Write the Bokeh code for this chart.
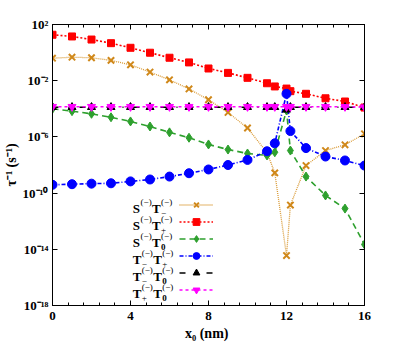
import numpy as np
from bokeh.plotting import figure
from bokeh.models import (FixedTicker, LinearAxis, LogAxis, Label, Legend, LegendItem, Range1d,
                          CustomJSTickFormatter)
from bokeh.embed import file_html
from bokeh.resources import INLINE

# ---------------- data ----------------
x0_nm = [0, 1, 2, 3, 4, 5, 6, 7, 8, 9, 10, 11, 11.4, 12, 12.2, 13, 14, 15, 16]

rate_S_Tminus = [4.0e-1, 4.7e-1, 4.3e-1, 2.8e-1, 1.35e-1, 4.1e-2, 1.15e-2, 2.6e-3, 4.4e-4,
                 5.5e-5, 4.3e-6, 7.8e-8, 2.75e-9, 3.6e-15, 1.4e-11, 9.1e-9, 1.07e-7, 2.75e-7, 1.66e-6]
rate_S_Tplus = [18.6, 14.1, 8.5, 4.7, 2.2, 0.98, 0.43, 0.20, 7.4e-2,
                3.6e-2, 1.6e-2, 6.6e-3, 3.9e-3, 2.75e-3, 1.8e-3, 1.17e-3, 5.6e-4, 3.3e-4, 1.23e-4]
rate_S_T0 = [1.0e-4, 6.8e-5, 4.4e-5, 2.5e-5, 1.26e-5, 5.5e-6, 2.1e-6, 8.7e-7, 2.9e-7,
             1.26e-7, 6.6e-8, 4.8e-8, 8.1e-8, 7.6e-5, 1.07e-7, 1.5e-9, 6.8e-11, 7.9e-12, 2.2e-14]
rate_Tminus_Tplus = [3.9e-10, 4.3e-10, 4.7e-10, 5.0e-10, 6.8e-10, 9.3e-10, 1.5e-9, 2.6e-9, 4.8e-9,
                     1.0e-8, 2.3e-8, 9.5e-8, 3.5e-7, 1.17e-3, 2.6e-6, 1.6e-7, 4.0e-8, 2.1e-8, 9.1e-9]
rate_Tminus_T0 = [1.3e-4, 1.3e-4, 1.3e-4, 1.3e-4, 1.3e-4, 1.3e-4, 1.3e-4, 1.3e-4, 1.3e-4,
                  1.3e-4, 1.3e-4, 1.3e-4, 1.3e-4, 8.5e-5, 1.3e-4, 1.3e-4, 1.3e-4, 1.3e-4, 1.3e-4]
rate_Tplus_T0 = [1.4e-4, 1.4e-4, 1.4e-4, 1.4e-4, 1.4e-4, 1.4e-4, 1.4e-4, 1.4e-4, 1.4e-4,
                 1.4e-4, 1.4e-4, 1.4e-4, 1.4e-4, 1.4e-4, 1.4e-4, 1.4e-4, 1.4e-4, 1.4e-4, 1.3e-4]

x_ticks = [0, 4, 8, 12, 16]
y_tick_exponents = [2, -2, -6, -10, -14, -18]

x_label = "x\u2080  (nm)"
y_label = "\u03c4\u207b\u00b9 (s\u207b\u00b9)"

# legend label parts: (first letter, its subscript, second letter, its subscript)
legend_parts = [("S", "", "T", "\u2212"),
                ("S", "", "T", "+"),
                ("S", "", "T", "0"),
                ("T", "\u2212", "T", "+"),
                ("T", "\u2212", "T", "0"),
                ("T", "+", "T", "0")]

FONT = "Liberation Serif"

p = figure(width=409, height=343, x_range=Range1d(0, 16), y_range=Range1d(1e-18, 1e2),
           y_axis_type="log", output_backend="svg", toolbar_location=None,
           min_border_left=52, min_border_right=45, min_border_top=24, min_border_bottom=38)
p.xgrid.visible = False
p.ygrid.visible = False
p.outline_line_color = "black"
p.background_fill_color = "white"
p.border_fill_color = "white"

minor_x = [float(v) for v in np.arange(0, 16.001, 0.8)]
y_tick_values = [10.0 ** e for e in y_tick_exponents]

def style_axis(ax, labels=True):
    ax.axis_line_color = "black"
    ax.major_tick_in = 5
    ax.major_tick_out = 0
    ax.minor_tick_in = 3
    ax.minor_tick_out = 0
    ax.major_tick_line_color = "black"
    ax.minor_tick_line_color = "black"
    if labels:
        ax.major_label_text_font = FONT
        ax.major_label_text_font_style = "bold"
        ax.major_label_text_color = "black"
        ax.axis_label_text_font = FONT
        ax.axis_label_text_font_style = "bold"
        ax.axis_label_text_color = "black"
    else:
        ax.major_label_text_font_size = "1px"
        ax.major_label_text_alpha = 0
        ax.major_label_standoff = 0

xa = p.xaxis[0]
xa.ticker = FixedTicker(ticks=x_ticks, minor_ticks=minor_x)
style_axis(xa)
xa.major_label_text_font_size = "13px"
xa.major_label_standoff = 6
xa.axis_label = x_label
xa.axis_label_text_font_size = "14px"
xa.axis_label_standoff = 3

ya = p.yaxis[0]
ya.ticker = FixedTicker(ticks=y_tick_values, minor_ticks=[])
style_axis(ya)
ya.major_label_text_font_size = "13px"
ya.major_label_standoff = 4
ya.formatter = CustomJSTickFormatter(code="""
const m = {"-": "\u207b", "0": "\u2070", "1": "\u00b9", "2": "\u00b2", "3": "\u00b3",
           "4": "\u2074", "5": "\u2075", "6": "\u2076", "7": "\u2077", "8": "\u2078", "9": "\u2079"};
const e = Math.round(Math.log10(tick));
return "10" + String(e).split("").map(c => m[c]).join("");
""")
ya.axis_label = y_label
ya.axis_label_text_font_size = "14px"
ya.axis_label_standoff = 1

top = LinearAxis(ticker=FixedTicker(ticks=x_ticks, minor_ticks=minor_x))
style_axis(top, labels=False)
p.add_layout(top, "above")
right = LogAxis(ticker=FixedTicker(ticks=y_tick_values, minor_ticks=[]))
style_axis(right, labels=False)
p.add_layout(right, "right")

series = [
    (rate_S_Tminus, "#d99a35", "#d0881a", "1 1", 1.3, "x", 9, 2.0),
    (rate_S_Tplus, "#ff0000", "#ff0000", "2 2", 1.6, "square", 7, 1.0),
    (rate_S_T0, "#2ea02e", "#2ea02e", "6 4", 1.6, "diamond", 9, 1.0),
    (rate_Tminus_Tplus, "#0000ff", "#0000ff", "4 2 1 2", 1.6, "circle", 9, 1.0),
    (rate_Tminus_T0, "#000000", "#000000", "6 10 1 10", 1.6, "triangle", 8, 1.0),
    (rate_Tplus_T0, "#ff00ff", "#ff00ff", "3 3", 1.6, "inverted_triangle", 8, 1.0),
]

items = []
for ys, lc, mc, dash, lw, mk, ms, mlw in series:
    rl = p.line(x0_nm, ys, line_color=lc, line_dash=dash, line_width=lw)
    if mk == "x":
        rs = p.scatter(x0_nm, ys, marker=mk, size=ms, line_color=mc, line_width=mlw)
    else:
        rs = p.scatter(x0_nm, ys, marker=mk, size=ms, fill_color=mc, line_color=mc, line_width=mlw)
    items.append(LegendItem(label=" ", renderers=[rl, rs]))

legend = Legend(items=items, location=(127, 7), glyph_width=34, glyph_height=17,
                label_width=1, label_height=17, label_standoff=0, spacing=0, padding=0,
                margin=0, border_line_alpha=0, background_fill_alpha=0,
                label_text_font_size="2px")
p.add_layout(legend)

# frame: left at x 52, bottom at y 305 (canvas pixels)
def add_text(px, py, text, size, bold=True, align="left"):
    p.add_layout(Label(x=px - 52, y=305 - py, x_units="screen", y_units="screen", text=text,
                       text_font=FONT, text_font_size=f"{size}px",
                       text_font_style="bold" if bold else "normal",
                       text_align=align, text_baseline="alphabetic", text_color="black"))

# legend text
for i, (a, asub, b, bsub) in enumerate(legend_parts):
    yc = 204.3 + 17 * i
    xa0 = 132.3
    add_text(xa0, yc + 4, a, 13)
    wa = 7.3 if a == "S" else 8.5
    xs = xa0 + wa + 0.5
    add_text(xs, yc - 3, "(\u2212)", 9, bold=False)
    if asub:
        add_text(xs, yc + 8, asub, 9, bold=(asub == "0"))
    xb = xs + 11.5
    add_text(xb, yc + 4, b, 13)
    xs2 = xb + 9
    add_text(xs2, yc - 3, "(\u2212)", 9, bold=False)
    add_text(xs2, yc + 8, bsub, 9, bold=(bsub == "0"))

open("out.html", "w").write(file_html(p, INLINE))
